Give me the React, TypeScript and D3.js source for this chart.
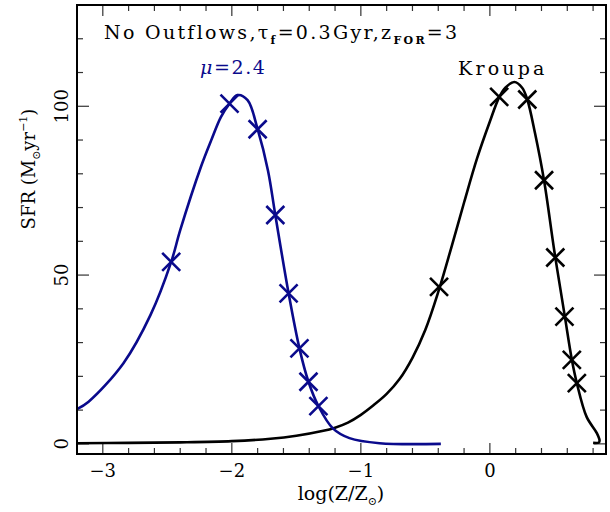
import * as React from 'react';
import * as d3 from 'd3';

// mu=2.4 IMF curve (log Z, SFR) and its sample points
const muCurveZ = [-3.2, -3.11, -2.84, -2.63, -2.47, -2.40, -2.24, -2.16, -2.085, -2.018, -1.956, -1.878, -1.80, -1.72, -1.663, -1.56, -1.476, -1.406, -1.329, -1.217, -1.088, -0.855, -0.38];
const muCurveSfr = [10.3, 12.5, 23.9, 38.2, 53.9, 63.3, 82, 89.9, 96.8, 100.8, 103.3, 101.8, 93.2, 81, 67.8, 44.6, 28.3, 18.4, 11.2, 4.6, 1.7, 0.2, 0];
const muMarkZ = [-2.47, -2.018, -1.80, -1.663, -1.56, -1.476, -1.406, -1.329];
const muMarkSfr = [53.9, 100.8, 93.2, 67.8, 44.6, 28.3, 18.4, 11.2];

// Kroupa IMF curve and its sample points
const kroupaCurveZ = [-3.2, -2.8, -2.4, -2.0, -1.7, -1.5, -1.3, -1.2, -1.1, -1.0, -0.9, -0.8, -0.7, -0.6, -0.5, -0.4, -0.3, -0.2, -0.1, 0.0, 0.07, 0.12, 0.19, 0.25, 0.29, 0.35, 0.42, 0.5, 0.58, 0.635, 0.674, 0.75, 0.829, 0.85, 0.845, 0.8];
const kroupaCurveSfr = [0.2, 0.3, 0.45, 0.8, 1.5, 2.4, 3.8, 4.8, 6.3, 8.6, 11.5, 14.8, 19.2, 25.5, 33.8, 45, 58, 71.5, 84.5, 95.5, 102.5, 105.5, 107.2, 105.5, 102, 92, 78, 57, 38, 25, 18, 8, 3.2, 1.0, 0.4, 0.3];
const kroupaMarkZ = [-0.394, 0.072, 0.29, 0.42, 0.507, 0.578, 0.635, 0.674];
const kroupaMarkSfr = [46.5, 102.8, 102, 78.1, 55.2, 37.7, 24.9, 18];

const xMajorTicks = [-3, -2, -1, 0];
const yMajorTicks = [0, 50, 100];

const W = 610;
const H = 512;
const margin = {left: 77, right: 4, top: 5, bottom: 58};
const BLUE = '#0a0a8c';
const FONT = '"DejaVu Serif", serif';

const zip = (xs: number[], ys: number[]) => xs.map((x, i) => [x, ys[i]] as [number, number]);

export default function App() {
  const x = d3.scaleLinear().domain([-3.2, 0.9]).range([margin.left, W - margin.right]);
  const y = d3.scaleLinear().domain([-3, 130]).range([H - margin.bottom, margin.top]);

  const line = d3.line<[number, number]>()
    .x(d => x(d[0]))
    .y(d => y(d[1]))
    .curve(d3.curveCatmullRom.alpha(0.5));

  const xMinor = d3.range(-3.2, 0.9001, 0.2).map(v => +v.toFixed(1));
  const yMinor = d3.range(0, 130, 10);

  const [x0, x1] = x.range();
  const [y0, y1] = y.range(); // y0 bottom, y1 top

  const cross = (cx: number, cy: number, color: string, key: string) => {
    const s = 9;
    return (
      <path key={key}
        d={`M${cx - s},${cy - s}L${cx + s},${cy + s}M${cx - s},${cy + s}L${cx + s},${cy - s}`}
        stroke={color} strokeWidth={2.6} fill="none"/>
    );
  };

  return (
    <svg width={W} height={H} style={{position: 'absolute', left: 0, top: 0, background: '#fff'}}
      fontFamily={FONT}>
      <rect x={0} y={0} width={W} height={H} fill="#fff"/>

      {/* ticks on all four sides */}
      <g stroke="#333" strokeWidth={1.2}>
        {xMinor.map(v => {
          const major = xMajorTicks.includes(v);
          const len = major ? 11 : 6;
          return (
            <g key={'xt' + v}>
              <line x1={x(v)} x2={x(v)} y1={y0} y2={y0 - len}/>
              <line x1={x(v)} x2={x(v)} y1={y1} y2={y1 + len}/>
            </g>
          );
        })}
        {yMinor.map(v => {
          const major = yMajorTicks.includes(v);
          const len = major ? 12 : 6;
          return (
            <g key={'yt' + v}>
              <line x1={x0} x2={x0 + len} y1={y(v)} y2={y(v)}/>
              <line x1={x1} x2={x1 - len} y1={y(v)} y2={y(v)}/>
            </g>
          );
        })}
      </g>

      {/* curves */}
      <path d={line(zip(kroupaCurveZ, kroupaCurveSfr)) || ''} fill="none" stroke="#000" strokeWidth={2.6}/>
      <path d={line(zip(muCurveZ, muCurveSfr)) || ''} fill="none" stroke={BLUE} strokeWidth={2.6}/>

      {muMarkZ.map((z, i) => cross(x(z), y(muMarkSfr[i]), BLUE, 'mm' + i))}
      {kroupaMarkZ.map((z, i) => cross(x(z), y(kroupaMarkSfr[i]), '#000', 'km' + i))}

      {/* frame */}
      <rect x={x0} y={y1} width={x1 - x0} height={y0 - y1} fill="none" stroke="#000" strokeWidth={2}/>

      {/* tick labels */}
      {xMajorTicks.map(v => (
        <text key={'xl' + v} x={x(v)} y={477} textAnchor="middle" fontSize={18}>
          {v < 0 ? '\u2212' + Math.abs(v) : v}
        </text>
      ))}
      {yMajorTicks.map(v => (
        <text key={'yl' + v} transform={`translate(68,${y(v)}) rotate(-90)`} textAnchor="middle" fontSize={18}>
          {v}
        </text>
      ))}

      {/* axis titles */}
      <text x={341} y={500} textAnchor="middle" fontSize={19}>
        log(Z/Z<tspan fontSize={11} dy={5}>{'\u2299'}</tspan><tspan dy={-5}>)</tspan>
      </text>
      <text transform="translate(35,169) rotate(-90)" textAnchor="middle" fontSize={18}>
        SFR (M<tspan fontSize={11} dy={5}>{'\u2299'}</tspan><tspan dy={-5}>yr</tspan>
        <tspan fontSize={11} dy={-8}>{'\u22121'}</tspan><tspan dy={8}>)</tspan>
      </text>

      {/* annotations */}
      <text x={104} y={38.7} fontSize={19} letterSpacing={2.3}>
        No Outflows,τ<tspan fontSize={11} dy={5} fontWeight="bold">f</tspan>
        <tspan dy={-5}>=0.3Gyr,z</tspan><tspan fontSize={11} dy={5} fontWeight="bold">FOR</tspan>
        <tspan dy={-5}>=3</tspan>
      </text>
      <text x={200} y={73.7} fontSize={19} fill={BLUE} letterSpacing={1.6}>
        <tspan fontStyle="italic">μ</tspan>=2.4
      </text>
      <text x={458} y={75} fontSize={19} letterSpacing={3.2}>Kroupa</text>
    </svg>
  );
}
